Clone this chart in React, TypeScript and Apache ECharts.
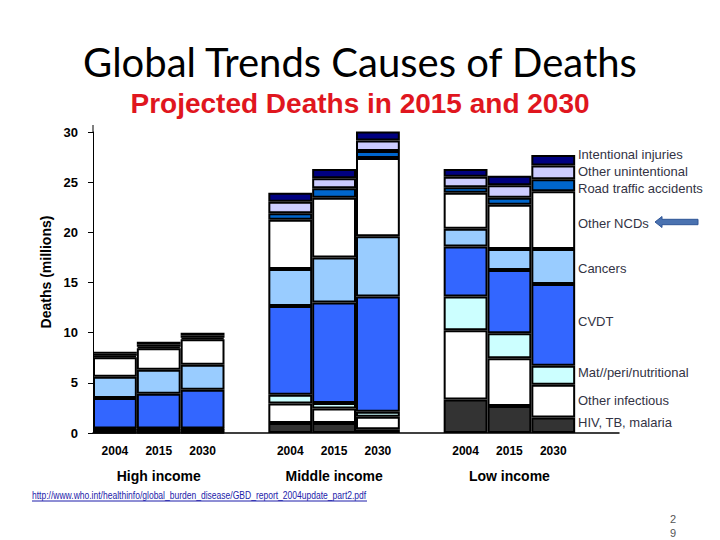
import React, { useEffect, useRef } from "react";
import * as echarts from "echarts";

// ---- data ----
const groups = ["High income", "Middle income", "Low income"];
const years = ["2004", "2015", "2030"];

// values per bar: High 2004/2015/2030, Middle 2004/2015/2030, Low 2004/2015/2030 (millions)
const hivTbMalaria = [0.05, 0.05, 0.05, 1.0, 1.0, 0.37, 3.35, 2.7, 1.55];
const otherInfectious = [0.35, 0.35, 0.35, 1.95, 1.45, 1.26, 6.9, 4.75, 3.25];
const matPeriNutritional = [0.05, 0.05, 0.05, 0.85, 0.55, 0.49, 3.35, 2.5, 1.9];
const cvdt = [3.05, 3.45, 3.85, 8.85, 10.0, 11.48, 5.0, 6.3, 8.15];
const cancers = [2.1, 2.4, 2.5, 3.7, 4.5, 6.0, 1.75, 2.1, 3.5];
const otherNcds = [1.95, 2.15, 2.55, 4.9, 5.95, 7.8, 3.6, 4.4, 5.75];
const roadTraffic = [0.15, 0.15, 0.15, 0.65, 0.95, 0.7, 0.55, 0.7, 1.2];
const otherUnintentional = [0.2, 0.25, 0.2, 1.15, 1.0, 1.05, 1.05, 1.25, 1.35];
const intentionalInjuries = [0.2, 0.25, 0.3, 0.9, 0.9, 0.9, 0.75, 0.95, 1.05];

const causeNames = [
  "HIV, TB, malaria",
  "Other infectious",
  "Mat//peri/nutritional",
  "CVDT",
  "Cancers",
  "Other NCDs",
  "Road traffic accidents",
  "Other unintentional",
  "Intentional injuries",
];
const causeValues = [
  hivTbMalaria,
  otherInfectious,
  matPeriNutritional,
  cvdt,
  cancers,
  otherNcds,
  roadTraffic,
  otherUnintentional,
  intentionalInjuries,
];
const causeColors = [
  "#333333",
  "#ffffff",
  "#ccffff",
  "#3366ff",
  "#99ccff",
  "#ffffff",
  "#0066cc",
  "#ccccff",
  "#000080",
];
// y positions of the right-hand labels (layout)
const labelY = [422, 400, 372, 321, 268, 223, 188, 171, 154];

const yMin = 0;
const yMax = 30;
const yInterval = 5;

const url =
  "http://www.who.int/healthinfo/global_burden_disease/GBD_report_2004update_part2.pdf";

export default function App() {
  const ref = useRef<HTMLDivElement>(null);

  useEffect(() => {
    if (!ref.current) return;
    const chart = echarts.init(ref.current, null, { renderer: "svg" });

    // categories: 3 years per group, followed by an empty gap slot
    const categories: string[] = [];
    groups.forEach((g, gi) => {
      years.forEach((y) => categories.push(`${g}|${y}`));
      categories.push(`gap${gi}`);
    });

    const pad = (vals: number[]) => {
      const out: (number | null)[] = [];
      for (let g = 0; g < groups.length; g++) {
        for (let y = 0; y < years.length; y++) out.push(vals[g * years.length + y]);
        out.push(null);
      }
      return out;
    };

    const series = causeNames.map((name, i) => ({
      name,
      type: "bar",
      stack: "total",
      barCategoryGap: "0%",
      silent: true,
      itemStyle: { color: causeColors[i], borderColor: "#000", borderWidth: 2 },
      data: pad(causeValues[i]),
    }));

    const blue = "#1c1caa";
    const font = "'Liberation Sans', Arial, sans-serif";

    const graphic: any[] = [
      {
        type: "text",
        x: 360,
        y: 62,
        style: {
          text: "Global Trends Causes of Deaths",
          fontSize: 40,
          fontFamily: "Lato, 'Open Sans', sans-serif",
          fill: "#000",
          align: "center",
          verticalAlign: "middle",
        },
      },
      {
        type: "text",
        x: 360,
        y: 103,
        style: {
          text: "Projected Deaths in 2015 and 2030",
          fontSize: 28,
          fontWeight: "bold",
          fontFamily: font,
          fill: "#e0161e",
          align: "center",
          verticalAlign: "middle",
        },
      },
      {
        type: "text",
        x: 46,
        y: 272,
        rotation: Math.PI / 2,
        style: {
          text: "Deaths (millions)",
          fontSize: 14,
          fontWeight: "bold",
          fontFamily: font,
          fill: "#000",
          align: "center",
          verticalAlign: "middle",
        },
      },
      {
        type: "line",
        shape: { x1: 93, y1: 125, x2: 93, y2: 132 },
        style: { stroke: "#000", lineWidth: 1 },
      },
      {
        type: "polygon",
        shape: {
          points: [
            [655, 222],
            [662, 216.5],
            [662, 219.3],
            [698, 219.3],
            [698, 224.7],
            [662, 224.7],
            [662, 227.5],
          ],
        },
        style: { fill: "#4a72b0", stroke: "#2f5597", lineWidth: 1 },
      },
      {
        type: "text",
        x: 32,
        y: 495,
        scaleX: 0.775,
        style: {
          text: url,
          fontSize: 11,
          fontFamily: font,
          fill: blue,
          align: "left",
          verticalAlign: "middle",
        },
      },
      {
        type: "line",
        shape: { x1: 32, y1: 501, x2: 367, y2: 501 },
        style: { stroke: blue, lineWidth: 1 },
      },
      {
        type: "text",
        x: 673,
        y: 519,
        style: { text: "2", fontSize: 11, fontFamily: font, fill: "#555", align: "center", verticalAlign: "middle" },
      },
      {
        type: "text",
        x: 673,
        y: 533,
        style: { text: "9", fontSize: 11, fontFamily: font, fill: "#555", align: "center", verticalAlign: "middle" },
      },
    ];

    causeNames.forEach((name, i) => {
      graphic.push({
        type: "text",
        x: 578,
        y: labelY[i],
        style: {
          text: name,
          fontSize: 13,
          fontFamily: font,
          fill: "#333344",
          align: "left",
          verticalAlign: "middle",
        },
      });
    });

    chart.setOption({
      animation: false,
      backgroundColor: "#fff",
      textStyle: { fontFamily: font },
      grid: { left: 93, right: 101, top: 132, bottom: 107, containLabel: false },
      xAxis: [
        {
          type: "category",
          data: categories,
          axisLine: { show: true, lineStyle: { color: "#000", width: 1.5 } },
          axisTick: { show: false },
          axisLabel: {
            interval: 0,
            margin: 12,
            fontSize: 12,
            fontWeight: "bold",
            color: "#000",
            formatter: (v: string) => (v.startsWith("gap") ? "" : v.split("|")[1]),
          },
          splitLine: { show: false },
        },
        {
          type: "category",
          data: categories,
          position: "bottom",
          axisLine: { show: false },
          axisTick: { show: false },
          axisLabel: {
            interval: 0,
            margin: 36,
            fontSize: 14,
            fontWeight: "bold",
            color: "#000",
            formatter: (v: string) => {
              const parts = v.split("|");
              return parts[1] === years[1] ? parts[0] : "";
            },
          },
          splitLine: { show: false },
        },
      ],
      yAxis: {
        type: "value",
        min: yMin,
        max: yMax,
        interval: yInterval,
        axisLine: { show: true, lineStyle: { color: "#000", width: 1 } },
        axisTick: { show: true, length: 5, lineStyle: { color: "#000" } },
        axisLabel: { margin: 15, fontSize: 13, fontWeight: "bold", color: "#000" },
        splitLine: { show: false },
      },
      series,
      graphic,
    });

    return () => chart.dispose();
  }, []);

  return (
    <div
      ref={ref}
      style={{ position: "absolute", left: 0, top: 0, width: 720, height: 540 }}
    />
  );
}
